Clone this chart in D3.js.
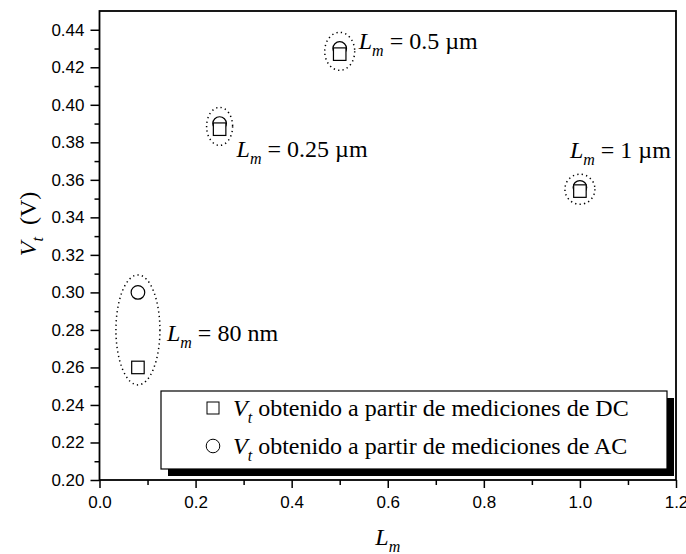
<!DOCTYPE html>
<html>
<head>
<meta charset="utf-8">
<script src="https://cdn.jsdelivr.net/npm/d3@7"></script>
<style>
  html, body { margin: 0; padding: 0; background: #fff; }
  svg { display: block; }
  .tick text { font-family: "Liberation Sans", Arial, sans-serif; font-size: 17px; fill: #000; }
  .serif { font-family: "Liberation Serif", "Times New Roman", serif; fill: #000; }
</style>
</head>
<body>
<svg id="chart" width="686" height="554"></svg>
<script>
// Channel length (µm) for each measured device
const lengths = [0.08, 0.25, 0.5, 1.0];
// Threshold voltage (V) extracted from DC measurements
const vtDC = [0.26, 0.387, 0.427, 0.354];
// Threshold voltage (V) extracted from AC measurements
const vtAC = [0.30, 0.390, 0.430, 0.356];
// Device labels shown next to each pair of points
const deviceLabels = ["80 nm", "0.25 µm", "0.5 µm", "1 µm"];
// Axis ticks
const xTicks = [0, 0.2, 0.4, 0.6, 0.8, 1.0, 1.2];
const yTicks = [0.20, 0.22, 0.24, 0.26, 0.28, 0.30, 0.32, 0.34, 0.36, 0.38, 0.40, 0.42, 0.44];
const legendLabels = ["obtenido a partir de mediciones de DC", "obtenido a partir de mediciones de AC"];

const svg = d3.select("#chart");
const plotL = 99.5, plotR = 676, plotT = 11, plotB = 480;

const x = d3.scaleLinear().domain([0, 1.2]).range([plotL, plotR]);
const y = d3.scaleLinear().domain([0.2, 0.45]).range([plotB, plotT]);

// minor ticks halfway between the labelled ones
const xMinor = d3.range(0.1, 1.2, 0.2);
const yMinor = d3.range(0.21, 0.45, 0.02);

// Axes
svg.append("g").attr("transform", `translate(${plotL},0)`)
  .call(d3.axisLeft(y).tickValues(yTicks).tickFormat(d3.format(".2f")).tickSize(9).tickPadding(6));
svg.append("g").attr("transform", `translate(${plotL},0)`)
  .call(d3.axisLeft(y).tickValues(yMinor).tickFormat("").tickSize(5));
svg.append("g").attr("transform", `translate(0,${plotB})`)
  .call(d3.axisBottom(x).tickValues(xTicks).tickFormat(d3.format(".1f")).tickSize(8).tickPadding(8));
svg.append("g").attr("transform", `translate(0,${plotB})`)
  .call(d3.axisBottom(x).tickValues(xMinor).tickFormat("").tickSize(5));
svg.selectAll(".domain").remove();
svg.selectAll(".tick line").attr("stroke", "#000").attr("stroke-width", 1.5);

// Frame
svg.append("rect")
  .attr("x", plotL).attr("y", plotT)
  .attr("width", plotR - plotL).attr("height", plotB - plotT)
  .attr("fill", "none").attr("stroke", "#000").attr("stroke-width", 1.8);

// Axis titles
const xTitle = svg.append("text").attr("class", "serif")
  .attr("x", (plotL + plotR) / 2).attr("y", 545).attr("text-anchor", "middle")
  .attr("font-size", 24);
xTitle.append("tspan").attr("font-style", "italic").text("L");
xTitle.append("tspan").attr("font-style", "italic").attr("font-size", 16).attr("dy", 7).text("m");

const yTitle = svg.append("text").attr("class", "serif")
  .attr("transform", "translate(36,224) rotate(-90)")
  .attr("text-anchor", "middle").attr("font-size", 24);
yTitle.append("tspan").attr("font-style", "italic").text("V");
yTitle.append("tspan").attr("font-style", "italic").attr("font-size", 16).attr("dy", 7).text("t");
yTitle.append("tspan").attr("dy", -7).text("\u2002(V)");

// Dotted ellipses around each device pair (radii in px)
const ellipseR = [[22, 55], [13, 19], [15, 19], [15, 15]];
const labelOffset = [[29, 11], [17, 31], [19, -2], [-10, -31]];

lengths.forEach((L, i) => {
  const cx = x(L);
  const cy = (y(vtDC[i]) + y(vtAC[i])) / 2;
  svg.append("ellipse")
    .attr("cx", cx).attr("cy", cy)
    .attr("rx", ellipseR[i][0]).attr("ry", ellipseR[i][1])
    .attr("fill", "none").attr("stroke", "#000").attr("stroke-width", 1.5)
    .attr("stroke-dasharray", "1.3 3.2");

  const t = svg.append("text").attr("class", "serif")
    .attr("x", cx + labelOffset[i][0]).attr("y", cy + labelOffset[i][1])
    .attr("font-size", 24);
  t.append("tspan").attr("font-style", "italic").text("L");
  t.append("tspan").attr("font-style", "italic").attr("font-size", 16).attr("dy", 7).text("m");
  t.append("tspan").attr("dy", -7).text(" = " + deviceLabels[i]);
});

// AC points (circles)
svg.selectAll(".ac").data(lengths).enter().append("circle")
  .attr("cx", d => x(d)).attr("cy", (d, i) => y(vtAC[i])).attr("r", 6.8)
  .attr("fill", "#fff").attr("stroke", "#000").attr("stroke-width", 1.2);

// DC points (squares)
const sq = 12.5;
svg.selectAll(".dc").data(lengths).enter().append("rect")
  .attr("x", d => x(d) - sq / 2).attr("y", (d, i) => y(vtDC[i]) - sq / 2)
  .attr("width", sq).attr("height", sq)
  .attr("fill", "#fff").attr("stroke", "#000").attr("stroke-width", 1.2);

// Legend with drop shadow
const lg = { x: 161, y: 391, w: 506, h: 78 };
svg.append("rect").attr("x", lg.x + 7).attr("y", lg.y + 7).attr("width", lg.w).attr("height", lg.h).attr("fill", "#000");
svg.append("rect").attr("x", lg.x).attr("y", lg.y).attr("width", lg.w).attr("height", lg.h)
  .attr("fill", "#fff").attr("stroke", "#000").attr("stroke-width", 1.2);

const rowY = [408, 446];
svg.append("rect").attr("x", 213 - 6).attr("y", rowY[0] - 6).attr("width", 12).attr("height", 12)
  .attr("fill", "#fff").attr("stroke", "#000").attr("stroke-width", 1);
svg.append("circle").attr("cx", 213).attr("cy", rowY[1]).attr("r", 6.8)
  .attr("fill", "#fff").attr("stroke", "#000").attr("stroke-width", 1);

legendLabels.forEach((s, i) => {
  const t = svg.append("text").attr("class", "serif")
    .attr("x", 233).attr("y", rowY[i] + 8).attr("font-size", 24);
  t.append("tspan").attr("font-style", "italic").text("V");
  t.append("tspan").attr("font-style", "italic").attr("font-size", 16).attr("dy", 7).text("t");
  t.append("tspan").attr("dy", -7).text(" " + s);
});
</script>
</body>
</html>
